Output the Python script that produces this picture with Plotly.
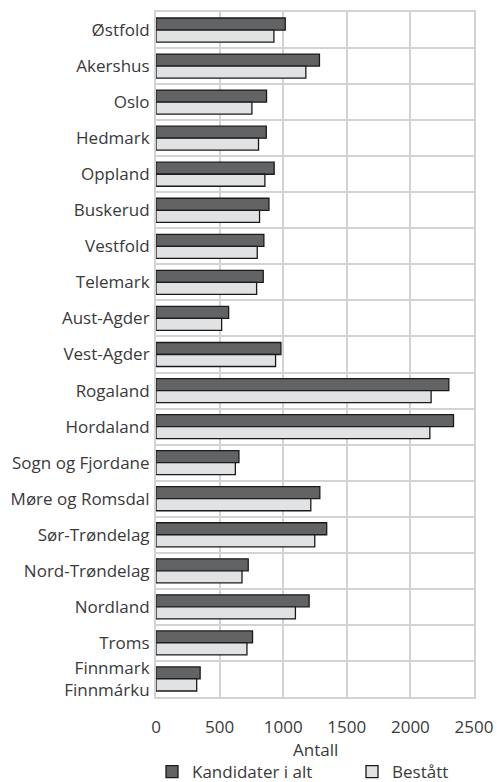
import plotly.graph_objects as go

categories = ["Østfold", "Akershus", "Oslo", "Hedmark", "Oppland", "Buskerud", "Vestfold",
              "Telemark", "Aust-Agder", "Vest-Agder", "Rogaland", "Hordaland",
              "Sogn og Fjordane", "Møre og Romsdal", "Sør-Trøndelag", "Nord-Trøndelag",
              "Nordland", "Troms", "Finnmark<br>Finnmárku"]
kandidater = [1016, 1285, 869, 867, 929, 888, 848, 843, 571, 982, 2302, 2339,
              652, 1288, 1342, 725, 1204, 759, 347]
bestatt = [927, 1178, 754, 806, 856, 814, 796, 791, 516, 940, 2163, 2153,
           624, 1217, 1248, 676, 1096, 715, 320]
x_ticks = [0, 500, 1000, 1500, 2000, 2500]
x_title = "Antall"

TEXT = "#3a3a3a"
GRID = "#d3d3d3"
FONT = "Open Sans"
FS = 17
W, H = 497, 782
T, B = 12, 85
PLOT_BOTTOM = H - B
PLOT_H = H - T - B

fig = go.Figure()
fig.add_trace(go.Bar(y=categories, x=kandidater, orientation="h", name="Kandidater i alt",
                     legend="legend",
                     marker=dict(color="#626365", line=dict(color="#1a1a1a", width=1.3))))
fig.add_trace(go.Bar(y=categories, x=bestatt, orientation="h", name="Bestått",
                     legend="legend2",
                     marker=dict(color="#e1e2e3", line=dict(color="#1a1a1a", width=1.3))))

leg_common = dict(orientation="h", xref="container", yref="container",
                  xanchor="left", yanchor="middle", y=1 - 772 / H,
                  font=dict(family=FONT, size=FS, color=TEXT), bgcolor="rgba(0,0,0,0)")

fig.update_layout(
    width=W, height=H,
    margin=dict(l=155.5, r=23.3, t=T, b=B, autoexpand=False),
    paper_bgcolor="white", plot_bgcolor="white",
    font=dict(family=FONT, size=FS, color=TEXT),
    barmode="group", bargap=0.333, bargroupgap=0,
    showlegend=True,
    legend=dict(x=152 / W, **leg_common),
    legend2=dict(x=352 / W, **leg_common),
    annotations=[dict(text=x_title, xref="paper", yref="paper", x=0.5,
                      y=(PLOT_BOTTOM - 749) / PLOT_H,
                      xanchor="center", yanchor="middle", showarrow=False,
                      font=dict(family=FONT, size=FS, color=TEXT))],
)
fig.update_xaxes(range=[0, 2500], tickvals=x_ticks, ticktext=[str(v) for v in x_ticks],
                 showgrid=True, gridcolor=GRID, gridwidth=2, zeroline=False,
                 showline=True, linecolor=GRID, linewidth=2, mirror=True,
                 ticks="", ticklabelstandoff=14, automargin=False)
fig.update_yaxes(type="category", autorange="reversed", tickson="boundaries",
                 showgrid=True, gridcolor=GRID, gridwidth=2,
                 showline=True, linecolor=GRID, linewidth=2, mirror=True,
                 ticks="", ticklabelstandoff=1, automargin=False)

fig.write_html("out.html", config={"displayModeBar": False},
               post_script="document.body.style.margin='0';document.body.style.padding='0';")
